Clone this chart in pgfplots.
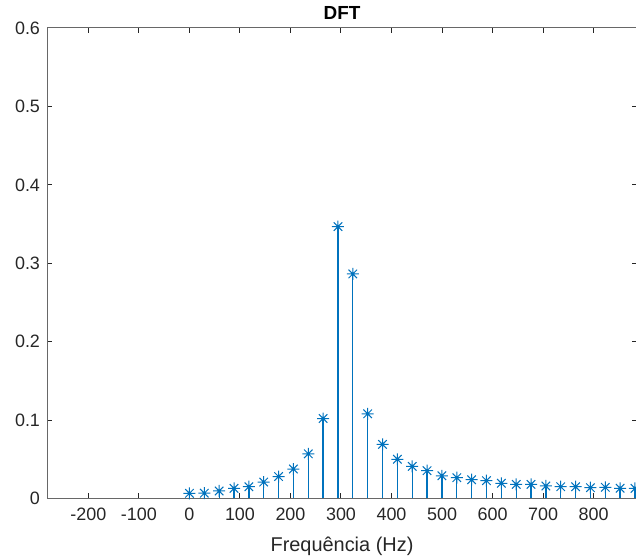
\documentclass[border=0pt]{standalone}
\usepackage{pgfplots}
\pgfplotsset{compat=1.18}
\usepackage{fontspec}
\setmainfont{Liberation Sans}
\definecolor{mblue}{RGB}{0,114,189}
\definecolor{axgray}{RGB}{38,38,38}
\pgfdeclareplotmark{star8}{%
  \pgfpathmoveto{\pgfqpoint{-\pgfplotmarksize}{0pt}}\pgfpathlineto{\pgfqpoint{\pgfplotmarksize}{0pt}}%
  \pgfpathmoveto{\pgfqpoint{0pt}{-\pgfplotmarksize}}\pgfpathlineto{\pgfqpoint{0pt}{\pgfplotmarksize}}%
  \pgfpathmoveto{\pgfqpoint{-0.7071\pgfplotmarksize}{-0.7071\pgfplotmarksize}}\pgfpathlineto{\pgfqpoint{0.7071\pgfplotmarksize}{0.7071\pgfplotmarksize}}%
  \pgfpathmoveto{\pgfqpoint{-0.7071\pgfplotmarksize}{0.7071\pgfplotmarksize}}\pgfpathlineto{\pgfqpoint{0.7071\pgfplotmarksize}{-0.7071\pgfplotmarksize}}%
  \pgfusepathqstroke}
\begin{document}
\begin{tikzpicture}
\begin{axis}[
  scale only axis,
  width=295bp, height=235.25bp,
  xmin=-282, xmax=886, ymin=0, ymax=0.6,
  xtick={-200,-100,0,100,200,300,400,500,600,700,800},
  ytick={0,0.1,0.2,0.3,0.4,0.5,0.6},
  yticklabels={0,0.1,0.2,0.3,0.4,0.5,0.6},
  tick align=inside,
  major tick length=2.5bp,
  axis line style={axgray!70, line width=0.5bp},
  every tick/.style={axgray, line width=0.5bp},
  tick label style={font=\fontsize{9}{10}\selectfont, text=axgray},
  /pgf/number format/assume math mode=true,
  xticklabel style={yshift=-1bp},
  xlabel={Frequência (Hz)},
  xlabel style={font=\fontsize{10}{12}\selectfont, text=axgray, yshift=-1.5bp},
  title={\textbf{DFT}},
  title style={font=\fontsize{9.5}{11}\selectfont, yshift=-5.5bp},
  clip=true,
]
\coordinate (sw) at (rel axis cs:0,0);
\coordinate (ne) at (rel axis cs:1,1);
\addplot+[ycomb, color=mblue, line width=0.65bp, mark=star8, mark size=3bp,
  mark options={line width=0.5bp, fill=mblue}] table {
x y
0 0.0066
29.4 0.0068
58.8 0.0096
88.2 0.013
117.6 0.015
147.0 0.021
176.4 0.028
205.8 0.0376
235.2 0.057
264.6 0.102
294.0 0.3467
323.4 0.2864
352.8 0.108
382.2 0.069
411.6 0.050
441.0 0.041
470.4 0.0355
499.8 0.029
529.2 0.0265
558.6 0.024
588.0 0.0227
617.4 0.0194
646.8 0.018
676.2 0.018
705.6 0.016
735.0 0.015
764.4 0.015
793.8 0.0138
823.2 0.0143
852.6 0.013
882.0 0.013
};
\end{axis}
\pgfresetboundingbox
\path[use as bounding box] ([shift={(-23.5bp,-30.25bp)}]sw) rectangle ([shift={(-0.5bp,14bp)}]ne);
\end{tikzpicture}
\end{document}
